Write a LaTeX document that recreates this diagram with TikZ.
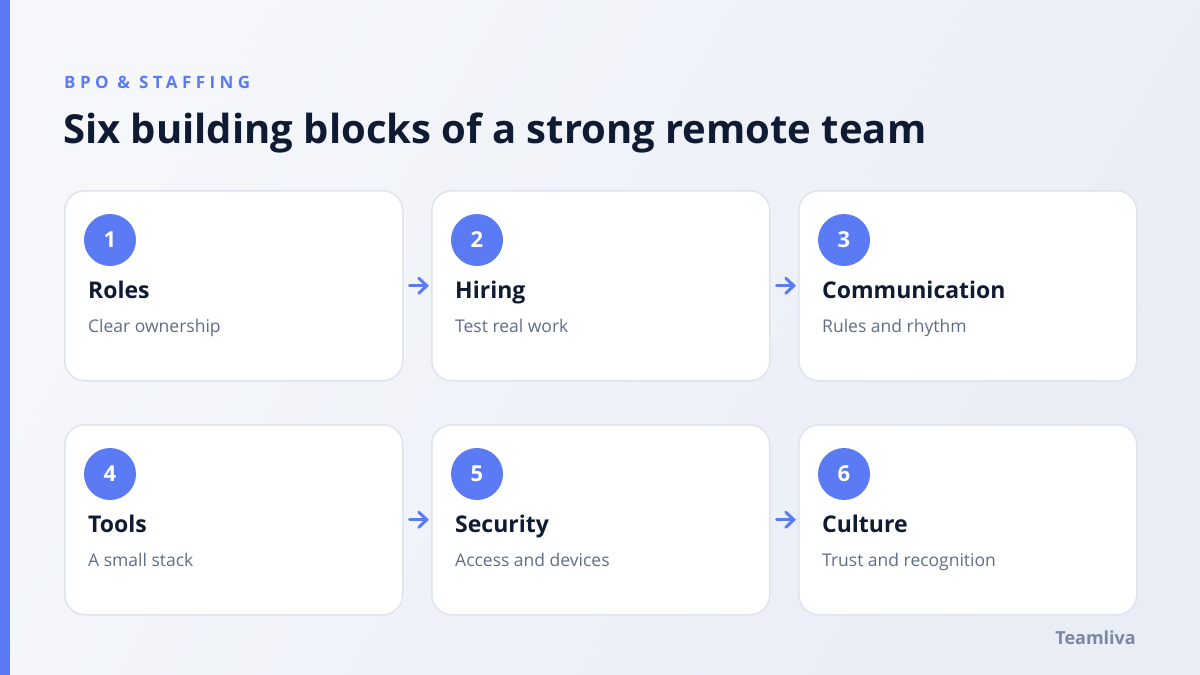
\documentclass[tikz,border=0pt]{standalone}
\usepackage{fontspec}
\setmainfont{Open Sans}
\newfontfamily\kickerfont[LetterSpace=26]{Open Sans}
\usetikzlibrary{positioning,calc,arrows.meta}
\definecolor{Accent}{HTML}{5B7BF5}
\definecolor{Ink}{HTML}{0F1A33}
\definecolor{Muted}{HTML}{5F6E88}
\definecolor{Brand}{HTML}{7A889F}
\definecolor{CardLine}{HTML}{DEE3EE}
\definecolor{BgLight}{HTML}{F5F7FB}
\definecolor{BgDark}{HTML}{E9EDF6}
\tikzset{
    card/.style={draw=CardLine, line width=1.5pt, fill=white, rounded corners=20pt,
        minimum width=338pt, minimum height=190pt, anchor=north west},
    badge/.style={circle, fill=Accent, minimum size=52pt, inner sep=0pt,
        text=white, font=\bfseries\fontsize{22}{26}\selectfont},
    cardtitle/.style={anchor=base west, inner sep=0pt, text=Ink,
        font=\bfseries\fontsize{23}{28}\selectfont},
    cardtext/.style={anchor=base west, inner sep=0pt, text=Muted,
        font=\fontsize{17.5}{22}\selectfont},
    flow/.style={-{Straight Barb[length=8pt,width=15pt,line cap=round]}, draw=Accent,
        line width=3pt, line cap=round, shorten <=6pt, shorten >=2pt}
}

\begin{document}
\begin{tikzpicture}[x=1pt,y=-1pt]
        % Background and accent bar
        \shade[left color=BgLight, right color=BgDark, shading angle=60] (0,0) rectangle (1200,675);
        \useasboundingbox (0,0) rectangle (1200,675);
        \fill[Accent] (0,0) rectangle (10,675);

        % Header
        \node[anchor=base west, inner sep=0pt, text=Accent, font=\kickerfont\bfseries\fontsize{17}{20}\selectfont] (kicker) at (64,88) {BPO \& STAFFING};
        \node[anchor=base west, inner sep=0pt, text=Ink, font=\bfseries\fontsize{40}{48}\selectfont] (title) at (63,143) {Six building blocks of a strong remote team};

        % Draw the six cards
        \foreach \name/\desc [count=\i, evaluate={\cx=64+mod(\i-1,3)*367; \cy=190+int((\i-1)/3)*234;}] in
            {Roles/Clear ownership, Hiring/Test real work, Communication/Rules and rhythm,
             Tools/A small stack, Security/Access and devices, Culture/Trust and recognition}{
            \node[card] (c\i) at (\cx,\cy) {};
            \node[badge] (n\i) at ($(c\i.north west)+(46,50)$) {\i};
            \node[cardtitle] (t\i) at ($(c\i.north west)+(24,108)$) {\name};
            \node[cardtext] (d\i) at ($(c\i.north west)+(24,142)$) {\desc};
        }

        % Draw the arrows between cards
        \foreach \source/\dest in {1/2, 2/3, 4/5, 5/6}{
            \draw[flow] (c\source.east) -- (c\dest.west);
        }

        % Brand
        \node[anchor=east, inner sep=0pt, text=Brand, font=\bfseries\fontsize{18}{21}\selectfont] (brand) at (1136,638) {Teamliva};
    \end{tikzpicture}
\end{document}
